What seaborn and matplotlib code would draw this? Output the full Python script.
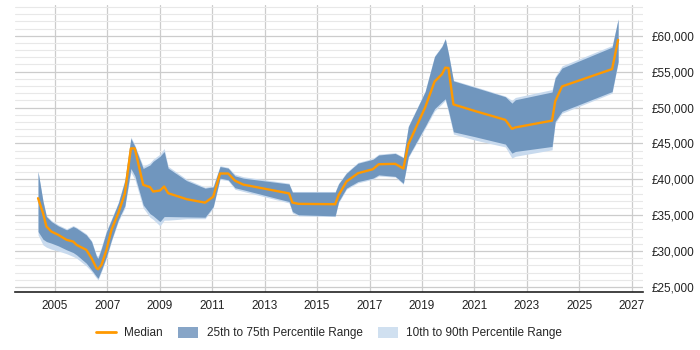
"""Salary percentile bands over time (median, 25-75 and 10-90 ranges)."""

import matplotlib

matplotlib.use("Agg")
import matplotlib.pyplot as plt
import numpy as np
import pandas as pd
import seaborn as sns
from matplotlib.lines import Line2D
from matplotlib.patches import Patch
from matplotlib.ticker import FuncFormatter, MultipleLocator

# values (x as decimal year)
years = [
    2004.36, 2004.55, 2004.68, 2004.87, 2005.13, 2005.45, 2005.70, 2005.83, 2006.20, 2006.40,
    2006.59, 2006.65, 2006.78, 2006.97, 2007.16, 2007.42, 2007.67, 2007.90, 2008.05, 2008.37,
    2008.63, 2008.75, 2009.01, 2009.17, 2009.32, 2010.03, 2010.73, 2011.04, 2011.30, 2011.61,
    2011.87, 2012.19, 2013.93, 2014.06, 2014.29, 2015.69, 2015.82, 2016.12, 2016.56, 2017.13,
    2017.35, 2017.98, 2018.29, 2018.48, 2019.12, 2019.48, 2019.76, 2019.89, 2020.01, 2020.20,
    2021.03, 2022.18, 2022.43, 2022.56, 2023.96, 2024.08, 2024.34, 2026.25, 2026.48,
]
p10 = [
    32250, 30850, 30530, 30250, 30010, 29620, 29230, 29000, 27920, 27140,
    26210, 25980, 27140, 29000, 31320, 34110, 36000, 41000, 40000, 36000,
    34700, 34400, 33500, 34300, 34300, 34500, 34500, 36000, 40000, 39800,
    38600, 38300, 36700, 35300, 34900, 34800, 36700, 38600, 39500, 40000,
    40450, 40300, 39300, 43000, 47100, 49500, 50500, 51000, 49300, 46300,
    45450, 44500, 42950, 43200, 44100, 47800, 49200, 52000, 56200,
]
p25 = [
    32710, 31640, 31320, 31090, 30720, 30160, 29780, 29460, 28300, 27370,
    26440, 26210, 27370, 29230, 31550, 34340, 36300, 41500, 40500, 36430,
    35200, 34900, 34100, 34800, 34800, 34750, 34710, 36190, 40150, 39920,
    38810, 38530, 36890, 35500, 35040, 34900, 36890, 38760, 39680, 40150,
    40610, 40400, 39440, 43160, 47350, 49820, 50800, 51220, 49600, 46610,
    45920, 44900, 43640, 43870, 44570, 48060, 49460, 52220, 56410,
]
median = [
    37360, 35270, 33410, 32710, 32250, 31550, 31320, 30850, 30160, 29000,
    27600, 27460, 28070, 30160, 32950, 35270, 38000, 44300, 44300, 39220,
    38900, 38290, 38430, 38990, 38060, 37220, 36740, 37570, 40800, 40800,
    39800, 39250, 38030, 36750, 36570, 36520, 37770, 39680, 40840, 41400,
    42090, 42150, 41500, 44870, 50000, 53610, 54630, 55560, 55500, 50430,
    49500, 48280, 47030, 47220, 48170, 50850, 52940, 55350, 59430,
]
p75 = [
    41080, 36900, 34800, 34110, 33500, 32950, 33410, 33180, 32250, 31320,
    29230, 29000, 30390, 32710, 34340, 36660, 39800, 45700, 44600, 41500,
    42000, 42500, 43200, 43860, 41550, 39800, 38760, 38940, 41770, 41550,
    40470, 40150, 39340, 38200, 38200, 38200, 39340, 40840, 42240, 42780,
    43380, 43600, 43000, 47330, 52200, 57100, 58490, 59550, 57500, 53710,
    52790, 51500, 50610, 51080, 52160, 54120, 55500, 58410, 62320,
]
p90 = [
    41080, 37000, 34950, 34250, 33650, 33100, 33550, 33300, 32400, 31450,
    29400, 29300, 30600, 32900, 34500, 36800, 40000, 45900, 44800, 41800,
    42300, 42800, 43500, 44300, 41800, 40000, 38900, 39100, 41900, 41650,
    40700, 40350, 39450, 38300, 38300, 38300, 39450, 40950, 42350, 42900,
    43500, 43700, 43100, 47450, 52300, 57200, 58600, 59650, 57600, 53800,
    52900, 51600, 51000, 51400, 52500, 54300, 55800, 58650, 62320,
]
year_ticks = list(range(2005, 2028, 2))

df = pd.DataFrame(
    {"year": years, "p10": p10, "p25": p25, "median": median, "p75": p75, "p90": p90}
)

sns.set_theme(style="white")
plt.rcParams["font.family"] = ["Liberation Sans", "DejaVu Sans"]

fig = plt.figure(figsize=(7, 3.5), dpi=100)
ax = fig.add_axes([0.021, 0.166, 0.898, 0.820])

ax.fill_between(df["year"], df["p10"], df["p90"], color="#c8daee", linewidth=0, zorder=2)
ax.fill_between(df["year"], df["p25"], df["p75"], color="#7096be", linewidth=0, zorder=3)
sns.lineplot(data=df, x="year", y="median", color="#ff9900", linewidth=1.7, ax=ax, zorder=4)

ax.set_xlim(2003.47, 2027.44)
ax.set_ylim(24300, 64300)
ax.set_xticks(year_ticks)
ax.yaxis.set_major_locator(MultipleLocator(5000))
ax.yaxis.set_minor_locator(MultipleLocator(1000))
ax.yaxis.set_major_formatter(FuncFormatter(lambda v, _: f"£{v:,.0f}"))
ax.yaxis.tick_right()
ax.grid(axis="y", which="major", color="#cccccc", linewidth=0.9, zorder=0)
ax.grid(axis="y", which="minor", color="#e8e8e8", linewidth=0.8, zorder=0)
ax.grid(axis="x", which="major", color="#cccccc", linewidth=0.9, zorder=0)
ax.set_axisbelow(True)
ax.tick_params(axis="both", which="both", length=0, labelsize=8.5, colors="#222222")
ax.tick_params(axis="x", pad=6)
ax.tick_params(axis="y", pad=6)
for side in ("top", "left", "right"):
    ax.spines[side].set_visible(False)
ax.spines["bottom"].set_color("#222222")
ax.spines["bottom"].set_linewidth(1.2)
ax.set_xlabel("")
ax.set_ylabel("")

handles = [
    Line2D([0], [0], color="#ff9900", linewidth=2),
    Patch(facecolor="#87a5c7", edgecolor="none"),
    Patch(facecolor="#d0e0f0", edgecolor="none"),
]
labels = ["Median", "25th to 75th Percentile Range", "10th to 90th Percentile Range"]
fig.legend(
    handles,
    labels,
    loc="center",
    bbox_to_anchor=(0.47, 0.048),
    ncol=3,
    frameon=False,
    fontsize=8.5,
    handlelength=1.7,
    handleheight=1.0,
    columnspacing=1.3,
    handletextpad=0.7,
)

fig.savefig("out.png", dpi=100)
plt.close(fig)
